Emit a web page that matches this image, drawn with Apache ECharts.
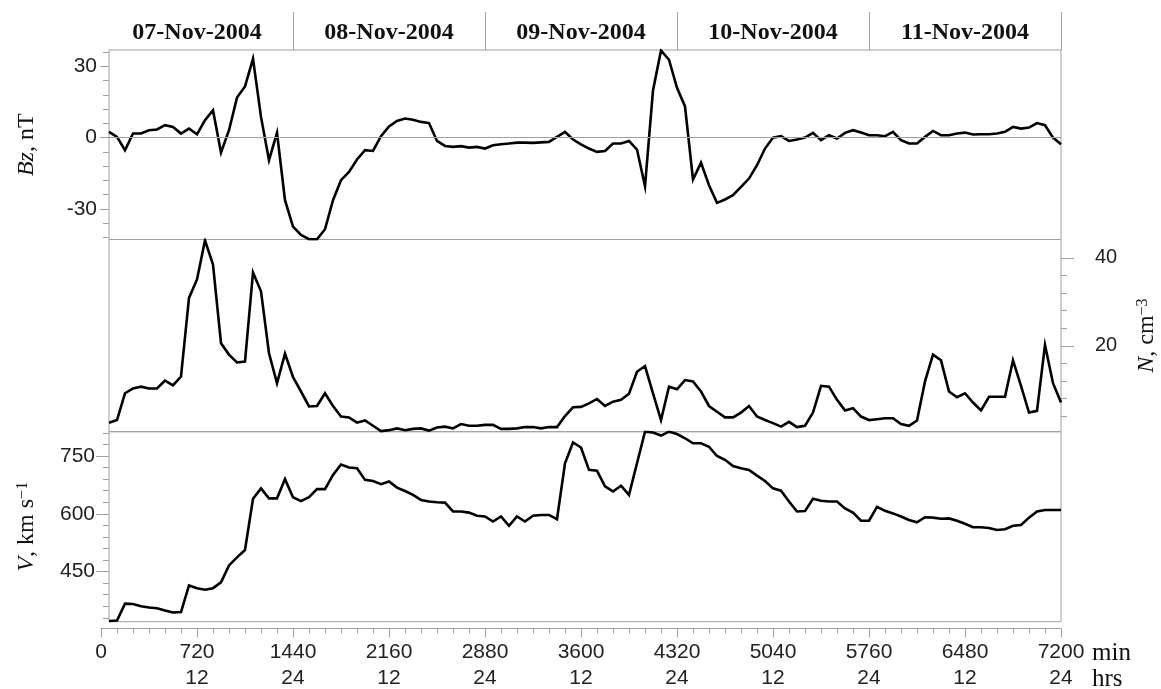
<!DOCTYPE html>
<html>
<head>
<meta charset="utf-8">
<script src="https://cdn.jsdelivr.net/npm/echarts@6/dist/echarts.min.js"></script>
<style>
  html, body { margin: 0; padding: 0; background: #fff; }
  #main { width: 1161px; height: 689px; }
</style>
</head>
<body>
<div id="main"></div>
<script>
// hourly values, 07-11 Nov 2004 (first point at 60 min)
const bz = [
  2.4, 0.3, -5.3, 1.7, 1.7, 3.1, 3.4, 5.2, 4.5, 1.7,
  3.8, 1.4, 7.3, 11.5, -6.3, 3.1, 16.8, 21.5, 33.1, 8.7,
  -9.5, 2.0, -26.3, -37.4, -40.9, -42.7, -42.7, -38.5, -26.3, -17.9,
  -14.4, -9.2, -5.3, -5.6, 0.6, 4.7, 7.0, 8.0, 7.5, 6.6,
  6.1, -1.4, -3.5, -3.9, -3.6, -4.2, -3.9, -4.6, -3.2, -2.8,
  -2.5, -2.1, -2.1, -2.2, -2.0, -1.8, 0.3, 2.4, -0.8, -2.8,
  -4.6, -6.0, -5.6, -2.5, -2.5, -1.4, -5.0, -20.4, 19.8, 36.6,
  32.7, 20.9, 13.1, -17.6, -10.5, -20.0, -27.4, -26.0, -24.2, -20.7,
  -17.2, -11.6, -4.6, 0.0, 0.6, -1.4, -0.8, 0.0, 2.0, -1.1,
  1.0, -0.4, 2.0, 3.1, 2.1, 1.0, 1.0, 0.6, 2.4, -1.1,
  -2.5, -2.5, 0.3, 2.8, 1.0, 1.0, 1.7, 2.1, 1.3, 1.4,
  1.4, 1.7, 2.4, 4.5, 3.8, 4.2, 6.1, 5.2, 0.0, -2.8
];
const dens = [
  2.5, 3.1, 9.2, 10.3, 10.7, 10.3, 10.3, 12.1, 11.0, 13.0,
  30.9, 35.1, 44.0, 38.5, 20.6, 18.0, 16.2, 16.4, 36.7, 32.4,
  18.3, 11.5, 18.2, 12.9, 9.6, 6.2, 6.3, 9.2, 6.3, 3.9,
  3.7, 2.5, 3.0, 1.8, 0.6, 0.8, 1.2, 0.8, 1.1, 1.2,
  0.7, 1.4, 1.6, 1.2, 2.2, 1.8, 1.8, 2.0, 2.0, 1.1,
  1.1, 1.2, 1.5, 1.5, 1.2, 1.5, 1.5, 4.0, 6.0, 6.1,
  6.9, 7.9, 6.3, 7.3, 7.7, 9.1, 14.1, 15.4, 9.2, 3.1,
  10.7, 10.1, 12.2, 11.9, 9.6, 6.3, 5.0, 3.7, 3.7, 4.8,
  6.3, 3.9, 3.1, 2.4, 1.6, 2.7, 1.5, 1.8, 4.8, 10.9,
  10.7, 7.7, 5.3, 5.8, 3.9, 3.1, 3.3, 3.5, 3.5, 2.2,
  1.8, 3.0, 11.9, 18.0, 16.7, 9.6, 8.3, 9.2, 7.1, 5.3,
  8.4, 8.4, 8.4, 16.7, 10.9, 4.8, 5.2, 20.2, 11.5, 7.1
];
const speed = [
  322, 323, 367, 366, 360, 357, 355, 349, 344, 345,
  414, 407, 403, 407, 422, 466, 487, 506, 639, 666,
  640, 640, 690, 643, 633, 643, 664, 664, 701, 728,
  720, 718, 688, 685, 677, 684, 668, 659, 649, 636,
  632, 630, 629, 606, 606, 603, 595, 593, 580, 593,
  569, 593, 580, 595, 597, 597, 586, 731, 785, 772,
  714, 712, 671, 658, 673, 649, 731, 813, 811, 803,
  813, 807, 796, 783, 783, 774, 750, 740, 724, 718,
  714, 699, 685, 666, 660, 632, 606, 607, 639, 634,
  632, 632, 614, 603, 582, 582, 618, 608, 601, 593,
  584, 578, 591, 590, 587, 588, 582, 574, 565, 565,
  563, 558, 560, 569, 571, 590, 606, 610, 610, 610
];

const dayLabels = ['07-Nov-2004', '08-Nov-2004', '09-Nov-2004', '10-Nov-2004', '11-Nov-2004'];
const dayCenters = [720, 2160, 3600, 5040, 6480];
const dayEdges = [1440, 2880, 4320, 5760, 7200];

const minLabels = [0, 720, 1440, 2160, 2880, 3600, 4320, 5040, 5760, 6480, 7200];
const hrsLabels = ['', '12', '24', '12', '24', '12', '24', '12', '24', '12', '24'];

const bzMajor = [-30, 0, 30];
const bzMinor = [-42, -36, -24, -18, -12, -6, 6, 12, 18, 24, 36];
const nMajor = [20, 40];
const nMinor = [4, 8, 12, 16, 24, 28, 32, 36];
const vMajor = [450, 600, 750];
const vMinor = [330, 360, 390, 420, 480, 510, 540, 570, 630, 660, 690, 720, 780, 810];

const minutes = bz.map((v, i) => (i + 1) * 60);
const pair = vals => vals.map((v, i) => [minutes[i], v]);

const gray = '#a0a0a0';
const ink = '#111';
const serif = 'Liberation Serif';
const sans = 'Liberation Sans';

const rich = {
  i: { fontFamily: serif, fontSize: 24, fontStyle: 'italic', color: ink },
  r: { fontFamily: serif, fontSize: 24, color: ink },
  sup: { fontFamily: serif, fontSize: 16, color: ink, verticalAlign: 'top' }
};

function majorAxis(grid, pos, min, max, ticks, tickLen, margin, name, gap, fs) {
  return {
    type: 'value', gridIndex: grid, position: pos, min: min, max: max,
    axisLine: { show: false },
    splitLine: { show: false },
    axisTick: { show: true, customValues: ticks, length: tickLen, lineStyle: { color: gray } },
    axisLabel: { customValues: ticks, margin: margin, fontFamily: sans, fontSize: fs, color: '#222' },
    name: name, nameLocation: 'middle', nameRotate: 90, nameGap: gap,
    nameTextStyle: { fontFamily: serif, fontSize: 24, color: ink, rich: rich }
  };
}

function minorAxis(grid, pos, min, max, ticks) {
  return {
    type: 'value', gridIndex: grid, position: pos, min: min, max: max,
    axisLine: { show: false },
    splitLine: { show: false },
    axisLabel: { show: false },
    axisTick: { show: true, customValues: ticks, length: 6, lineStyle: { color: gray } }
  };
}

function hiddenX(grid) {
  return { type: 'value', gridIndex: grid, min: 60, max: 7200, show: false };
}

function panel(top, height) {
  return {
    left: 109, width: 952, top: top, height: height,
    show: true, borderColor: gray, borderWidth: 1, outerBoundsMode: 'none'
  };
}

function curve(x, y, vals, extra) {
  return Object.assign({
    type: 'line', xAxisIndex: x, yAxisIndex: y, data: pair(vals),
    showSymbol: false, symbol: 'none', animation: false,
    lineStyle: { color: '#000', width: 2.6, join: 'miter' }
  }, extra || {});
}

const chart = echarts.init(document.getElementById('main'));
chart.setOption({
  backgroundColor: '#fff',
  animation: false,
  grid: [
    panel(50, 189.5),
    panel(239.5, 192.2),
    panel(431.7, 190),
    { left: 101, width: 960, top: 627.5, height: 1, outerBoundsMode: 'none' }
  ],
  xAxis: [
    hiddenX(0),
    {
      type: 'value', gridIndex: 0, position: 'top', min: 60, max: 7200,
      axisLine: { show: false, onZero: false },
      splitLine: { show: false },
      axisTick: { show: true, customValues: dayEdges, length: 38, lineStyle: { color: gray } },
      axisLabel: {
        customValues: dayCenters, margin: 5,
        fontFamily: serif, fontSize: 24, fontWeight: 'bold', color: ink,
        formatter: v => dayLabels[dayCenters.indexOf(v)]
      }
    },
    hiddenX(1),
    hiddenX(2),
    {
      type: 'value', gridIndex: 3, position: 'bottom', min: 0, max: 7200, interval: 720,
      axisLine: { show: true, onZero: false, lineStyle: { color: gray } },
      splitLine: { show: false },
      axisTick: { show: true, length: 9, lineStyle: { color: gray } },
      minorTick: { show: true, splitNumber: 6, length: 5, lineStyle: { color: gray } },
      minorSplitLine: { show: false },
      axisLabel: {
        margin: 11, fontFamily: sans, fontSize: 21, lineHeight: 26, color: '#222',
        formatter: v => minLabels.indexOf(v) >= 0 ? v + '\n' + hrsLabels[minLabels.indexOf(v)] : ''
      }
    }
  ],
  yAxis: [
    majorAxis(0, 'left', -42.8, 36.8, bzMajor, 9, 12, '{i|Bz}{r|, nT}', 70, 21),
    minorAxis(0, 'left', -42.8, 36.8, bzMinor),
    majorAxis(1, 'right', 0.45, 44.2, nMajor, 13, 34, '{i|N}{r|, cm}{sup|−3}', 74, 20),
    minorAxis(1, 'right', 0.45, 44.2, nMinor),
    majorAxis(2, 'left', 320, 813, vMajor, 13, 14, '{i|V}{r|, km s}{sup|−1}', 70, 21),
    minorAxis(2, 'left', 320, 813, vMinor),
    { type: 'value', gridIndex: 3, min: 0, max: 1, show: false }
  ],
  series: [
    curve(0, 0, bz, {
      markLine: {
        silent: true, symbol: 'none', animation: false,
        label: { show: false },
        lineStyle: { color: gray, type: 'solid', width: 1 },
        data: [{ yAxis: 0 }]
      }
    }),
    curve(2, 2, dens),
    curve(3, 4, speed)
  ],
  graphic: [
    {
      type: 'text', left: 1092, top: 640,
      style: { text: 'min\nhrs', fill: ink, font: '25px "Liberation Serif"', lineHeight: 26 }
    }
  ]
});
</script>
</body>
</html>
